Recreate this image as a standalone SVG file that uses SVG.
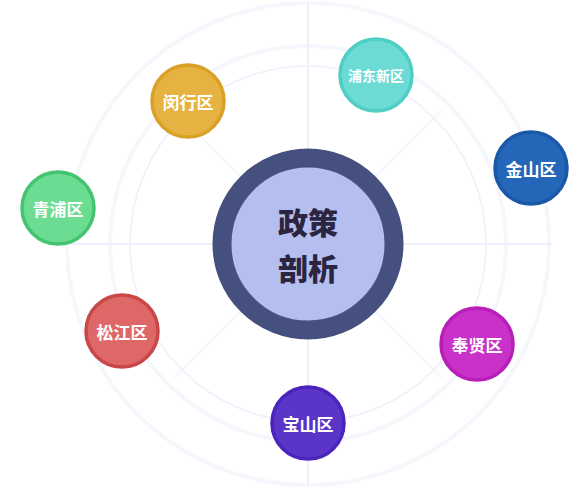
<svg xmlns="http://www.w3.org/2000/svg" width="588" height="490" viewBox="0 0 588 490">
<style>
.ring{fill:none;stroke:#f6f7fd}
.spoke{stroke:#eef0fb;stroke-width:2;fill:none}
.diag{stroke:#f2f3fc;stroke-width:1.5;fill:none}
.node circle{stroke-width:3.5}
.lbl{font-family:"Noto Sans CJK SC","Noto Sans",sans-serif;font-weight:700;fill:#ffffff;text-anchor:middle;dominant-baseline:central}
.ctr{font-family:"Noto Sans CJK SC","Noto Sans",sans-serif;font-weight:900;fill:#2b2540;text-anchor:middle;dominant-baseline:central;font-size:30px}
</style>
<rect width="588" height="490" fill="#ffffff"/>
<g id="background">
<circle class="ring" cx="308" cy="244" r="241" stroke-width="4"/>
<circle class="ring" cx="308" cy="244" r="198" stroke-width="4"/>
<circle class="ring" cx="308" cy="244" r="178" stroke-width="1.6" style="stroke:#eef0fb"/>
</g>
<g id="connectors">
<line class="spoke" x1="64" y1="244" x2="552" y2="244"/>
<line class="spoke" x1="308" y1="4" x2="308" y2="484"/>
<line class="diag" x1="376" y1="176" x2="440" y2="112"/>
<line class="diag" x1="240" y1="176" x2="176" y2="112"/>
<line class="diag" x1="240" y1="312" x2="176" y2="376"/>
<line class="diag" x1="376" y1="312" x2="440" y2="376"/>
</g>
<g id="center">
<circle cx="308" cy="244" r="86" fill="#b4bff0" stroke="#45507e" stroke-width="19"/>
<text class="ctr" x="308" y="221">政策</text>
<text class="ctr" x="308" y="267">剖析</text>
</g>
<g id="pudong" class="node">
<circle cx="376" cy="75" r="36" fill="#6cdbd4" stroke="#4ecec5"/>
<text class="lbl" x="376" y="75" font-size="14">浦东新区</text>
</g>
<g id="minhang" class="node">
<circle cx="188" cy="101" r="36" fill="#e6b342" stroke="#d9a128"/>
<text class="lbl" x="188" y="101" font-size="17">闵行区</text>
</g>
<g id="jinshan" class="node">
<circle cx="531" cy="168" r="36" fill="#2467b8" stroke="#1a58a8"/>
<text class="lbl" x="531" y="168" font-size="17">金山区</text>
</g>
<g id="qingpu" class="node">
<circle cx="58" cy="208" r="36" fill="#6ddc93" stroke="#43c470"/>
<text class="lbl" x="58" y="208" font-size="17">青浦区</text>
</g>
<g id="songjiang" class="node">
<circle cx="122" cy="331" r="36" fill="#de6767" stroke="#c94747"/>
<text class="lbl" x="122" y="331" font-size="17">松江区</text>
</g>
<g id="fengxian" class="node">
<circle cx="477" cy="344" r="36" fill="#c832c8" stroke="#b81eb8"/>
<text class="lbl" x="477" y="344" font-size="17">奉贤区</text>
</g>
<g id="baoshan" class="node">
<circle cx="308" cy="423" r="36" fill="#5b35c8" stroke="#4a24bc"/>
<text class="lbl" x="308" y="423" font-size="17">宝山区</text>
</g>
</svg>
